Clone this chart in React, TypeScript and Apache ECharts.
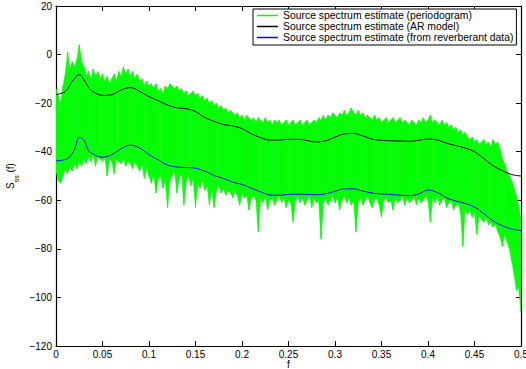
import React, { useEffect, useRef } from "react";
import * as echarts from "echarts";

const FONT = '"Liberation Sans", Arial, Helvetica, sans-serif';

// Periodogram: sampled on a uniform grid of step 0.0025 (201 samples, f = 0 .. 0.5)
const PERIODOGRAM_STEP = 0.0025;
// upper edge of the periodogram (dB)
const periodogramHigh = [
  -14, -17, -20, -13, -8, 1, -6, -3, -5, -2,
  4, -3, -5, -9, -7, -10, -6, -9, -7, -10,
  -8, -11, -9, -12, -10, -8, -11, -7, -9, -5,
  -8, -6, -9, -7, -10, -8, -11, -10, -13, -11,
  -13, -12, -14, -12, -15, -14, -16, -13, -14, -12,
  -13, -14, -13, -15, -14, -16, -15, -17, -16, -15,
  -17, -16, -18, -17, -19, -18, -20, -19, -21, -20,
  -22, -21, -23, -22, -24, -23, -24, -25, -24, -26,
  -25, -27, -25, -26, -27, -26, -28, -26, -27, -28,
  -26, -28, -27, -29, -27, -28, -27, -29, -28, -27,
  -29, -28, -27, -29, -28, -27, -29, -28, -27, -29,
  -28, -27, -28, -26, -27, -25, -27, -25, -26, -24,
  -25, -26, -24, -25, -23, -25, -24, -22, -24, -25,
  -23, -25, -24, -26, -25, -26, -27, -25, -27, -26,
  -28, -27, -26, -28, -27, -26, -28, -27, -26, -28,
  -27, -28, -29, -27, -28, -29, -27, -28, -26, -28,
  -27, -25, -28, -27, -28, -29, -27, -29, -28, -30,
  -29, -31, -30, -32, -31, -33, -32, -34, -35, -34,
  -36, -35, -37, -36, -35, -37, -36, -38, -35, -37,
  -36, -39, -43, -45, -48, -50, -52, -55, -58, -62,
  -68,
];
// lower edge of the periodogram (dB), with its downward spikes
const periodogramLow = [
  -48, -52, -53, -50, -47, -49, -46, -48, -45, -47,
  -44, -46, -43, -45, -42, -44, -41, -46, -42, -43,
  -44, -42, -50, -43, -44, -49, -43, -44, -45, -43,
  -46, -44, -45, -47, -44, -46, -48, -45, -51, -47,
  -50, -53, -49, -57, -51, -50, -55, -52, -63, -52,
  -50, -48, -57, -51, -49, -62, -52, -50, -54, -51,
  -63, -53, -55, -52, -56, -54, -62, -55, -63, -56,
  -54, -57, -55, -58, -56, -57, -59, -56, -58, -62,
  -57, -59, -58, -64, -59, -58, -60, -73, -59, -61,
  -58, -64, -60, -59, -62, -60, -58, -61, -59, -63,
  -60, -61, -69, -60, -58, -61, -59, -62, -60, -58,
  -63, -59, -61, -60, -76, -61, -59, -62, -60, -58,
  -61, -59, -64, -60, -58, -61, -59, -62, -60, -73,
  -61, -59, -62, -60, -58, -61, -63, -60, -59, -62,
  -67, -60, -59, -61, -60, -64, -59, -61, -60, -58,
  -62, -59, -61, -60, -58, -62, -59, -61, -60, -58,
  -60, -69, -59, -61, -58, -62, -60, -59, -63, -61,
  -60, -64, -62, -61, -65, -79, -63, -66, -64, -67,
  -65, -74, -66, -68, -69, -67, -70, -69, -71, -70,
  -73, -75, -79, -74, -77, -80, -85, -90, -97, -96,
  -106,
];

// Smooth model curves
const curveF = [
  0, 0.01, 0.015, 0.02, 0.025, 0.03, 0.035, 0.04,
  0.05, 0.06, 0.07, 0.08, 0.09, 0.1, 0.11, 0.12, 0.13, 0.14,
  0.15, 0.16, 0.17, 0.18, 0.19, 0.2, 0.21, 0.22, 0.23, 0.24,
  0.25, 0.26, 0.27, 0.28, 0.29, 0.3, 0.31, 0.32, 0.33, 0.34,
  0.35, 0.36, 0.37, 0.38, 0.39, 0.4, 0.41, 0.42, 0.43, 0.44,
  0.45, 0.46, 0.47, 0.48, 0.49, 0.5,
];
const arModel = [
  -16.5, -15.2, -12.5, -9.8, -8.3, -10.3, -13.5, -15.3,
  -16.8, -16.5, -14.6, -13.6, -15.2, -17.3, -19.0, -20.8, -21.9, -22.3,
  -23.5, -25.9, -27.5, -28.8, -29.4, -30.5, -32.6, -34.2, -35.2, -35.2,
  -34.9, -34.9, -35.4, -36.0, -35.5, -34.0, -32.7, -32.5, -33.5, -34.8,
  -35.3, -35.5, -35.6, -35.7, -35.3, -34.8, -35.2, -36.5, -37.5, -38.5,
  -40.0, -42.8, -45.8, -47.8, -49.4, -50.0,
];
const reverberant = [
  -43.8, -43.2, -42.0, -39.0, -34.2, -35.2, -39.5, -41.0,
  -42.3, -41.2, -38.8, -37.3, -38.5, -41.2, -43.4, -45.5, -46.3, -46.5,
  -46.8, -48.0, -49.8, -51.0, -52.5, -53.5, -55.0, -56.5, -57.8, -57.9,
  -57.6, -57.5, -57.6, -57.7, -57.3, -56.3, -55.3, -55.3, -56.2, -57.0,
  -57.4, -57.6, -57.9, -58.1, -57.4, -55.8, -56.8, -59.0, -60.3, -61.3,
  -62.8, -65.5, -68.5, -70.5, -71.8, -72.5,
];

const xTicks = { min: 0, max: 0.5, interval: 0.05 };
const yTicks = { min: -120, max: 20, interval: 20 };

const NAME_PERIODOGRAM = "Source spectrum estimate (periodogram)";
const NAME_AR = "Source spectrum estimate (AR model)";
const NAME_REV = "Source spectrum estimate (from reverberant data)";

export default function App() {
  const ref = useRef<HTMLDivElement | null>(null);

  useEffect(() => {
    if (!ref.current) return;
    const chart = echarts.init(ref.current, undefined, { renderer: "svg" });

    // each item: [f, low, high, fNext, lowNext, highNext]
    const bandData = periodogramHigh.slice(0, -1).map((hi, i) => [
      i * PERIODOGRAM_STEP,
      periodogramLow[i],
      hi,
      (i + 1) * PERIODOGRAM_STEP,
      periodogramLow[i + 1],
      periodogramHigh[i + 1],
    ]);
    const arData = curveF.map((f, i) => [f, arModel[i]]);
    const revData = curveF.map((f, i) => [f, reverberant[i]]);

    const minus = (v: number) => String(v).replace("-", "\u2212");
    const axisLine = { show: true, onZero: false, lineStyle: { color: "#000", width: 1.2 } };
    const tick = { show: true, inside: true, length: 5, lineStyle: { color: "#000", width: 1 } };
    const label = { color: "#000", fontSize: 10, fontFamily: FONT };

    chart.setOption({
      animation: false,
      backgroundColor: "#fff",
      grid: {
        left: 56,
        right: 5,
        top: 6,
        bottom: 23,
        containLabel: false,
        outerBoundsMode: "none",
      },
      legend: {
        left: 253,
        top: 9,
        orient: "vertical",
        itemWidth: 21,
        itemHeight: 1.5,
        itemGap: 0,
        padding: [1, 3, 2, 4],
        borderColor: "#000",
        borderWidth: 1,
        backgroundColor: "#fff",
        textStyle: { color: "#000", fontSize: 10.4, fontFamily: FONT, lineHeight: 11 },
        data: [
          { name: NAME_PERIODOGRAM, icon: "rect", itemStyle: { color: "#00ff00" } },
          { name: NAME_AR, icon: "rect", itemStyle: { color: "#000" } },
          { name: NAME_REV, icon: "rect", itemStyle: { color: "#0000ff" } },
        ],
      },
      xAxis: [
        {
          type: "value",
          position: "bottom",
          ...xTicks,
          name: "f",
          nameLocation: "middle",
          nameGap: 14,
          nameMoveOverlap: false,
          nameTextStyle: { color: "#000", fontSize: 10, fontFamily: FONT, lineHeight: 9 },
          axisLine,
          axisTick: tick,
          axisLabel: { ...label, margin: 3, lineHeight: 10 },
          splitLine: { show: false },
        },
        {
          type: "value",
          position: "top",
          ...xTicks,
          axisLine,
          axisTick: tick,
          axisLabel: { show: false },
          splitLine: { show: false },
        },
      ],
      yAxis: [
        {
          type: "value",
          position: "left",
          ...yTicks,
          name: "{s|S}{sub|ss}{s| (f)}",
          nameLocation: "middle",
          nameGap: 36,
          nameMoveOverlap: false,
          nameTextStyle: {
            rich: {
              s: { fontSize: 10, fontFamily: FONT, color: "#000", lineHeight: 15, verticalAlign: "top" },
              sub: { fontSize: 7, fontFamily: FONT, color: "#000", lineHeight: 9, verticalAlign: "bottom" },
            },
          },
          axisLine,
          axisTick: tick,
          axisLabel: { ...label, margin: 4, formatter: minus },
          splitLine: { show: false },
        },
        {
          type: "value",
          position: "right",
          ...yTicks,
          axisLine,
          axisTick: tick,
          axisLabel: { show: false },
          splitLine: { show: false },
        },
      ],
      series: [
        {
          type: "custom",
          name: NAME_PERIODOGRAM,
          data: bandData,
          encode: { x: [0, 3], y: [1, 2, 4, 5] },
          itemStyle: { color: "#00ff00" },
          clip: true,
          z: 1,
          renderItem: (params: any, api: any) => {
            const p1 = api.coord([api.value(0), api.value(2)]);
            const p2 = api.coord([api.value(3), api.value(5)]);
            const p3 = api.coord([api.value(3), api.value(4)]);
            const p4 = api.coord([api.value(0), api.value(1)]);
            return {
              type: "polygon",
              shape: { points: [p1, p2, p3, p4] },
              style: { fill: "#00ff00", stroke: "#00ff00", lineWidth: 0.6 },
            };
          },
        },
        {
          type: "line",
          name: NAME_AR,
          data: arData,
          smooth: 0.4,
          symbol: "none",
          lineStyle: { color: "#000", width: 1 },
          itemStyle: { color: "#000" },
          z: 3,
        },
        {
          type: "line",
          name: NAME_REV,
          data: revData,
          smooth: 0.4,
          symbol: "none",
          lineStyle: { color: "#0000ff", width: 1 },
          itemStyle: { color: "#0000ff" },
          z: 3,
        },
      ],
    });

    return () => chart.dispose();
  }, []);

  return (
    <div
      ref={ref}
      style={{ position: "fixed", left: 0, top: 0, width: 526, height: 369, background: "#fff" }}
    />
  );
}
